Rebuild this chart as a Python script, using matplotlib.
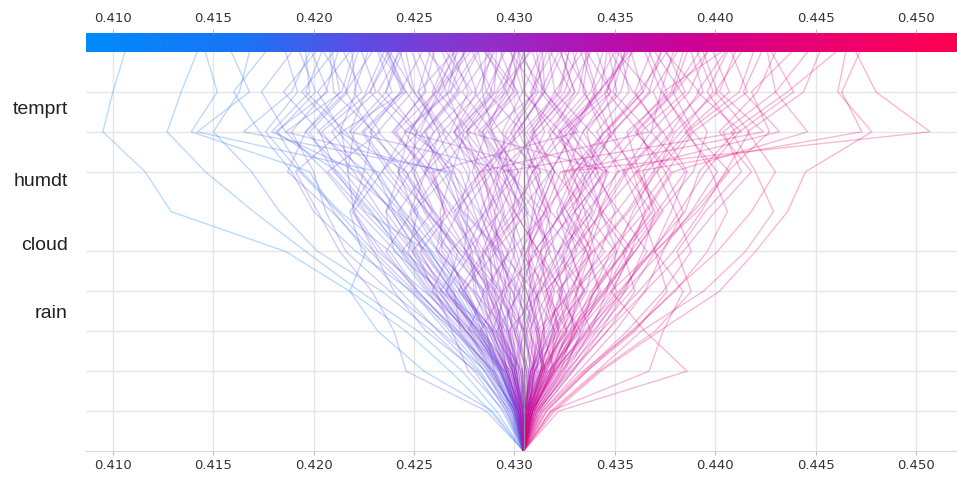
import numpy as np
import matplotlib
matplotlib.use("Agg")
import matplotlib.pyplot as plt
from matplotlib.colors import LinearSegmentedColormap, Normalize

# ---------------- data (values in thousandths) ----------------
features = ["temprt", "humdt", "cloud", "rain"]
feature_rows = [8.6, 6.8, 5.2, 3.5]
base_value = 430.45
x_ticks = [0.410, 0.415, 0.420, 0.425, 0.430, 0.435, 0.440, 0.445, 0.450]
x_range = (0.40866, 0.45204)

# each path: cumulative model output at rows 1..10 (row 0 = base value)
paths = [
    [428.8, 426.8, 424.6, 421.8, 418.6, 412.9, 411.6, 409.5, 410.0, 410.6],
    [429.1, 427.4, 425.2, 422.3, 419.6, 417.0, 414.6, 412.7, 413.4, 414.2],
    [429.4, 428.0, 425.9, 423.4, 420.2, 418.3, 416.9, 415.0, 416.3, 416.8],
    [429.6, 428.3, 426.6, 424.9, 422.1, 420.0, 418.9, 417.3, 416.0, 417.6],
    [429.9, 428.9, 427.1, 425.2, 423.8, 421.3, 419.4, 418.2, 420.1, 419.3],
    [429.7, 428.6, 426.3, 423.8, 421.6, 420.6, 420.0, 418.9, 420.6, 421.2],
    [430.1, 429.4, 428.2, 426.7, 424.5, 422.8, 421.0, 419.8, 421.7, 420.5],
    [430.2, 429.0, 427.5, 426.0, 425.1, 423.9, 422.3, 420.9, 423.1, 422.4],
    [429.8, 428.1, 425.6, 424.0, 423.0, 422.0, 421.7, 421.4, 420.2, 421.8],
    [430.3, 429.7, 429.1, 427.9, 426.2, 424.5, 423.0, 421.8, 422.6, 423.5],
    [430.0, 429.3, 427.8, 425.5, 423.2, 421.9, 422.5, 422.9, 421.6, 422.9],
    [429.5, 427.7, 426.9, 426.1, 424.9, 423.3, 422.0, 420.4, 422.8, 423.9],
    [430.4, 430.1, 428.9, 426.4, 424.0, 423.6, 424.3, 423.0, 421.0, 420.8],
    [430.1, 428.7, 427.3, 427.0, 425.8, 424.1, 421.7, 422.0, 423.9, 423.2],
    [429.9, 429.0, 428.6, 427.4, 426.8, 425.5, 424.6, 421.3, 422.1, 421.9],
    [430.2, 429.5, 427.9, 425.9, 424.7, 425.2, 423.7, 422.4, 424.4, 423.6],
    [430.5, 430.0, 429.3, 428.5, 427.2, 426.0, 425.1, 423.2, 424.9, 424.3],
    [430.3, 429.8, 428.4, 427.6, 426.6, 425.0, 424.2, 424.8, 426.1, 425.2],
    [430.6, 430.3, 429.6, 428.0, 427.8, 426.9, 425.8, 424.0, 425.5, 426.0],
    [430.2, 429.2, 428.1, 426.9, 425.4, 424.8, 425.6, 426.3, 425.0, 424.6],
    [430.4, 429.9, 429.0, 427.3, 426.1, 426.5, 426.0, 424.5, 426.7, 427.1],
    [430.7, 430.6, 430.0, 429.2, 428.3, 427.4, 426.2, 425.6, 427.3, 426.4],
    [430.1, 429.6, 428.8, 428.4, 427.0, 425.9, 424.9, 425.1, 426.4, 427.5],
    [430.5, 430.2, 429.4, 428.8, 427.5, 427.7, 427.0, 426.2, 425.2, 425.8],
    [430.3, 430.0, 429.8, 429.0, 428.7, 428.0, 427.3, 424.8, 426.0, 427.2],
    [430.6, 430.4, 429.1, 428.1, 427.9, 427.1, 425.5, 426.8, 427.7, 426.9],
    [430.0, 429.4, 428.5, 427.7, 426.4, 426.3, 426.9, 427.5, 426.6, 425.9],
    [430.4, 430.1, 429.9, 429.5, 429.0, 427.8, 426.6, 425.3, 426.2, 427.8],
    [430.8, 430.9, 430.5, 429.7, 428.5, 427.2, 427.8, 427.0, 428.1, 427.4],
    [430.2, 429.7, 428.9, 428.6, 428.2, 426.7, 425.7, 423.9, 425.6, 424.9],
    [430.5, 430.3, 429.7, 429.1, 427.4, 425.6, 425.0, 426.0, 427.9, 426.6],
    [430.6, 430.7, 430.2, 429.6, 429.3, 428.6, 428.1, 427.2, 428.8, 429.4],
    [430.4, 430.0, 429.5, 428.9, 428.8, 429.5, 429.0, 428.4, 429.7, 430.5],
    [430.7, 431.0, 430.8, 430.1, 429.0, 428.3, 427.6, 426.4, 428.3, 428.9],
    [430.3, 429.9, 429.2, 429.4, 430.0, 429.9, 430.3, 431.0, 430.1, 429.3],
    [430.5, 430.4, 430.6, 430.9, 430.3, 429.4, 428.8, 428.0, 429.2, 430.8],
    [430.8, 431.3, 431.5, 431.0, 430.5, 429.8, 429.1, 429.6, 431.0, 431.6],
    [430.2, 429.9, 429.6, 429.8, 429.4, 428.8, 428.5, 427.0, 428.6, 428.2],
    [430.6, 430.9, 431.1, 430.7, 431.3, 431.8, 431.1, 430.2, 431.4, 431.1],
    [430.4, 430.2, 430.4, 429.9, 429.2, 429.0, 429.7, 429.4, 430.4, 429.8],
    [430.5, 430.6, 430.1, 430.4, 430.9, 430.6, 429.9, 428.7, 429.9, 430.2],
    [430.7, 430.8, 430.6, 431.2, 431.6, 431.0, 430.6, 431.5, 430.8, 431.9],
    [430.3, 430.1, 429.3, 428.7, 428.4, 429.2, 428.4, 429.9, 430.9, 431.4],
    [430.6, 431.1, 431.4, 431.8, 431.0, 430.4, 429.5, 428.9, 428.4, 428.6],
    [430.4, 430.5, 430.9, 430.5, 429.6, 428.6, 427.9, 428.6, 429.5, 430.0],
    [430.5, 430.0, 430.3, 430.8, 430.7, 430.9, 431.3, 430.5, 429.6, 430.7],
    [430.2, 430.6, 430.0, 429.3, 428.9, 430.2, 430.9, 429.8, 431.2, 430.4],
    [430.9, 431.5, 431.2, 430.6, 430.1, 429.3, 428.2, 427.6, 429.0, 429.1],
    [430.3, 430.4, 429.8, 430.0, 430.6, 431.2, 432.0, 430.9, 432.0, 431.7],
    [430.6, 430.8, 430.5, 429.4, 428.0, 428.7, 429.3, 430.1, 431.5, 430.9],
    [430.4, 429.9, 429.4, 429.0, 429.7, 430.3, 429.5, 428.2, 430.0, 428.5],
    [430.7, 431.3, 431.9, 432.4, 432.0, 431.6, 431.0, 430.4, 432.2, 432.7],
    [430.8, 431.6, 432.2, 431.8, 432.6, 433.3, 432.5, 431.7, 433.2, 433.6],
    [430.5, 431.0, 431.7, 432.3, 433.1, 432.4, 431.8, 433.0, 434.1, 433.5],
    [430.9, 431.9, 432.6, 433.4, 432.8, 432.1, 433.0, 432.2, 433.8, 434.4],
    [430.6, 431.2, 430.8, 431.3, 432.2, 433.0, 433.6, 434.4, 433.5, 432.9],
    [431.0, 432.1, 433.0, 432.5, 431.7, 431.2, 432.0, 431.0, 432.7, 433.8],
    [430.7, 431.4, 432.5, 433.6, 434.0, 433.5, 432.9, 432.3, 434.6, 435.2],
    [430.4, 430.9, 431.5, 431.1, 430.6, 431.7, 432.6, 433.4, 434.8, 434.1],
    [430.8, 431.5, 431.2, 430.9, 431.6, 432.8, 433.9, 434.8, 433.9, 435.0],
    [431.1, 432.4, 433.4, 434.2, 433.6, 432.6, 431.6, 430.8, 432.5, 433.1],
    [430.6, 430.7, 431.0, 431.9, 432.9, 434.0, 434.6, 433.4, 435.3, 435.8],
    [430.9, 431.8, 432.0, 432.8, 433.7, 434.4, 433.3, 432.5, 434.3, 434.6],
    [430.5, 431.3, 432.3, 431.6, 431.3, 432.3, 433.2, 435.0, 434.5, 435.6],
    [431.2, 432.6, 433.8, 434.6, 435.1, 434.3, 433.7, 432.9, 434.0, 433.3],
    [430.7, 431.0, 431.8, 432.7, 432.4, 433.6, 435.2, 434.1, 435.7, 435.3],
    [430.8, 431.7, 432.8, 433.1, 434.3, 435.0, 434.1, 433.6, 435.1, 434.7],
    [430.6, 431.1, 430.6, 430.2, 431.0, 432.4, 433.5, 431.9, 433.0, 432.3],
    [431.0, 432.2, 433.6, 434.9, 435.8, 436.5, 435.9, 434.9, 436.7, 437.3],
    [431.3, 432.9, 434.3, 435.5, 436.4, 437.0, 436.2, 435.6, 437.8, 438.4],
    [430.9, 432.0, 433.1, 434.0, 435.1, 435.9, 437.0, 436.3, 438.5, 437.6],
    [431.2, 432.7, 434.1, 435.8, 437.0, 436.3, 435.4, 436.8, 437.3, 436.5],
    [431.1, 432.5, 433.3, 433.9, 434.8, 436.1, 437.6, 438.9, 437.9, 439.2],
    [430.8, 431.9, 433.7, 435.2, 436.9, 437.8, 438.6, 437.4, 439.4, 438.8],
    [431.4, 433.2, 435.0, 436.5, 437.4, 438.4, 437.5, 436.1, 438.0, 439.6],
    [431.0, 432.3, 432.9, 434.4, 436.0, 437.3, 438.9, 439.6, 438.3, 437.0],
    [431.5, 433.5, 435.6, 437.4, 438.8, 438.0, 437.1, 438.0, 440.1, 439.4],
    [431.1, 432.8, 434.6, 436.0, 435.4, 436.9, 436.4, 437.9, 436.9, 438.1],
    [431.6, 433.6, 435.8, 438.0, 439.6, 440.6, 439.8, 438.6, 441.2, 441.9],
    [431.9, 434.2, 437.0, 438.8, 438.1, 439.5, 441.3, 440.4, 443.0, 442.6],
    [431.6, 433.6, 436.0, 437.6, 437.0, 438.9, 440.6, 442.7, 441.8, 443.8],
    [431.4, 433.4, 435.9, 437.9, 440.1, 441.8, 443.0, 441.6, 444.4, 445.2],
    [431.8, 434.1, 436.3, 439.4, 441.5, 442.9, 442.0, 440.8, 443.6, 446.0],
    [432.0, 434.3, 437.2, 440.2, 442.0, 443.6, 444.5, 447.8, 446.1, 446.5],
    [430.9, 431.6, 432.4, 433.1, 433.8, 433.0, 432.4, 450.7, 448.0, 447.0],
    [431.0, 431.8, 433.0, 434.6, 435.8, 437.2, 436.0, 447.3, 446.3, 447.2],
    [430.7, 431.5, 432.9, 434.0, 435.5, 436.6, 437.9, 444.6, 443.0, 444.6],
    [430.3, 429.6, 428.7, 427.5, 426.2, 425.0, 426.8, 416.5, 418.9, 419.8],
    [430.1, 429.3, 428.3, 427.1, 425.8, 424.4, 423.2, 414.2, 416.8, 415.9],
    [430.5, 430.9, 431.4, 432.0, 431.2, 430.0, 429.4, 441.3, 439.1, 440.5],
    [430.6, 431.2, 432.0, 431.4, 430.7, 431.5, 432.3, 442.4, 440.2, 441.0],
    [430.4, 430.0, 429.2, 428.3, 427.6, 428.5, 429.9, 421.8, 423.6, 424.2],
    [430.2, 429.6, 428.9, 429.6, 430.4, 431.0, 431.8, 424.6, 426.8, 428.1],
    [430.8, 431.4, 432.1, 432.9, 433.5, 434.2, 435.1, 443.2, 441.4, 442.3],
    [430.3, 429.8, 429.4, 428.7, 427.6, 426.5, 425.9, 433.2, 431.5, 432.4],
    [430.5, 430.8, 431.3, 430.6, 429.9, 429.0, 428.3, 436.7, 434.9, 435.5],
    [430.7, 431.0, 430.4, 431.2, 432.5, 433.8, 434.7, 427.6, 429.4, 430.0],
    [430.4, 430.2, 429.7, 428.8, 428.1, 427.3, 426.5, 418.6, 421.4, 422.0],
    [432.2, 438.6, 436.5, 434.8, 436.9, 438.2, 439.5, 441.2, 443.9, 442.8],
    [431.8, 436.7, 437.4, 438.4, 437.0, 439.1, 440.7, 438.9, 441.6, 440.8],
    [428.6, 424.6, 424.0, 422.9, 421.3, 420.2, 419.1, 421.4, 424.5, 423.7],
    [428.9, 425.5, 423.2, 421.8, 422.6, 421.0, 419.8, 413.9, 415.2, 414.6],
    [430.1, 429.3, 427.6, 425.8, 424.4, 425.9, 424.6, 422.8, 424.3, 425.4],
    [430.7, 431.4, 432.8, 434.5, 435.6, 434.2, 435.5, 437.3, 436.0, 436.8],
    [430.3, 429.6, 428.3, 426.4, 425.3, 426.8, 428.3, 430.4, 428.6, 429.5],
    [430.8, 431.7, 433.3, 432.1, 433.9, 432.6, 434.2, 431.9, 433.6, 432.5],
    [430.0, 428.9, 427.2, 425.1, 423.6, 424.9, 426.3, 427.8, 426.2, 427.0],
    [430.9, 432.0, 433.6, 435.4, 436.6, 435.2, 433.9, 435.8, 437.6, 436.7],
    [430.4, 430.1, 429.0, 427.2, 428.5, 430.0, 428.7, 427.0, 429.1, 430.1],
    [430.2, 429.5, 428.0, 426.8, 425.0, 423.6, 424.8, 426.5, 425.0, 423.8],
    [430.9, 432.1, 433.8, 433.0, 434.8, 436.5, 437.8, 436.0, 437.9, 438.6],
    [430.5, 430.8, 431.8, 433.2, 432.1, 430.6, 429.1, 427.6, 429.6, 428.6],
    [430.1, 429.2, 427.6, 426.3, 427.6, 426.0, 424.4, 426.0, 424.6, 423.7],
    [430.6, 431.3, 432.6, 431.6, 433.0, 434.3, 433.0, 434.5, 436.4, 435.8],
    [430.3, 430.0, 430.5, 429.0, 427.2, 425.6, 424.2, 425.5, 427.1, 428.2],
    [430.7, 431.4, 431.1, 432.9, 434.5, 433.0, 434.5, 436.2, 434.6, 435.5],
    [430.0, 429.0, 427.0, 425.2, 423.4, 422.0, 423.4, 425.2, 423.6, 424.4],
    [430.8, 432.0, 433.5, 435.1, 434.0, 435.7, 437.1, 438.8, 437.3, 437.9],
    [430.4, 430.8, 432.0, 431.0, 429.3, 427.5, 428.9, 427.3, 425.9, 426.8],
    [430.5, 431.0, 432.1, 433.4, 435.0, 433.6, 432.0, 430.6, 432.3, 432.7],
    [430.2, 429.7, 428.9, 427.5, 428.6, 430.3, 431.8, 432.9, 431.3, 432.2],
    [430.9, 431.9, 433.1, 434.5, 436.0, 437.4, 436.1, 434.6, 436.4, 437.3],
    [430.3, 429.8, 428.4, 426.9, 425.5, 424.2, 425.6, 427.4, 428.9, 427.9],
    [430.6, 431.3, 431.9, 433.5, 432.8, 434.4, 435.6, 437.4, 435.9, 434.8],
    [430.1, 429.5, 428.2, 426.6, 427.2, 425.7, 423.9, 422.5, 424.6, 423.3],
    [430.7, 431.7, 433.1, 432.3, 431.3, 433.0, 434.6, 433.0, 431.5, 431.4],
    [430.4, 430.4, 430.0, 430.9, 432.2, 433.3, 434.4, 432.7, 434.8, 433.6],
    [430.2, 429.4, 427.9, 426.4, 424.9, 426.6, 425.5, 424.1, 426.1, 427.6],
    [430.8, 431.8, 432.7, 434.3, 433.6, 432.3, 433.7, 434.9, 436.8, 435.1],
    [430.5, 430.9, 431.2, 430.2, 431.8, 431.0, 429.7, 431.0, 432.8, 431.8],
    [430.0, 428.8, 427.7, 428.5, 426.8, 425.1, 423.4, 424.6, 422.8, 423.7],
    [430.9, 431.9, 432.9, 433.8, 435.5, 437.1, 438.5, 436.8, 438.7, 439.6],
    [430.3, 430.1, 429.7, 428.6, 429.7, 428.3, 429.2, 431.3, 433.0, 432.3],
    [430.6, 431.4, 431.1, 429.9, 428.5, 429.7, 431.3, 429.3, 428.0, 429.0],
    [430.4, 429.9, 429.1, 430.3, 429.2, 427.4, 426.8, 425.5, 427.2, 425.7],
    [430.7, 431.8, 433.2, 434.8, 435.9, 434.4, 436.1, 437.8, 439.2, 437.5],
    [430.2, 429.7, 428.3, 429.4, 431.2, 430.0, 430.9, 432.7, 434.2, 435.7],
    [430.5, 430.8, 431.6, 432.4, 431.0, 432.4, 433.9, 432.3, 430.4, 431.3],
    [430.3, 429.9, 428.8, 428.0, 426.2, 427.2, 428.3, 426.6, 425.2, 427.0],
    [430.8, 431.5, 432.3, 433.5, 432.2, 433.9, 432.7, 434.5, 436.2, 437.6],
    [430.1, 429.6, 429.3, 430.2, 429.0, 430.7, 429.8, 428.4, 430.2, 428.7],
    [430.6, 431.0, 432.2, 431.5, 433.3, 435.1, 436.6, 438.3, 439.9, 439.1],
    [430.4, 430.7, 430.1, 429.3, 427.6, 429.3, 430.2, 428.9, 427.4, 428.8],
    [430.2, 429.3, 428.6, 427.4, 429.1, 428.2, 426.9, 425.1, 423.2, 424.3],
    [430.7, 431.4, 432.6, 432.2, 433.5, 431.8, 430.9, 432.3, 434.2, 435.9],
    [430.5, 430.3, 429.3, 428.4, 429.8, 431.6, 430.6, 431.9, 430.5, 430.2],
    [430.9, 432.0, 431.4, 432.7, 433.9, 435.6, 436.9, 438.6, 437.4, 440.3],
    [430.3, 429.6, 428.1, 426.6, 427.9, 427.0, 428.7, 430.1, 431.5, 430.2],
    [430.6, 431.6, 430.7, 431.7, 430.3, 431.5, 433.0, 434.8, 433.4, 433.7],
    [430.4, 429.9, 429.7, 431.3, 432.8, 431.4, 429.7, 428.3, 426.8, 427.5],
    [430.7, 431.3, 432.5, 434.0, 435.4, 436.8, 435.5, 433.8, 432.0, 433.4],
    [430.1, 429.5, 427.6, 425.9, 426.8, 428.6, 430.2, 428.8, 431.1, 429.8],
    [429.7, 428.5, 426.8, 425.0, 423.0, 421.2, 419.3, 417.6, 419.2, 418.6],
    [429.9, 428.8, 427.4, 425.6, 424.1, 422.2, 420.6, 418.6, 417.4, 418.9],
    [430.0, 429.1, 427.6, 426.2, 424.6, 423.1, 421.5, 419.6, 421.3, 420.9],
    [429.8, 428.7, 427.0, 424.8, 422.8, 420.9, 418.7, 419.6, 421.6, 422.2],
    [430.1, 429.3, 428.0, 426.6, 425.2, 423.9, 422.2, 417.9, 419.8, 419.6],
    [430.2, 429.4, 428.4, 427.3, 425.7, 422.6, 421.1, 420.3, 418.5, 420.1],
    [429.6, 428.2, 426.2, 424.3, 422.4, 421.8, 423.0, 421.2, 419.4, 421.0],
    [430.0, 428.9, 427.8, 426.2, 424.4, 422.5, 420.7, 423.3, 422.0, 422.7],
    [430.3, 429.6, 428.7, 427.5, 425.9, 424.3, 422.6, 420.2, 422.4, 421.5],
    [429.9, 428.5, 427.2, 425.7, 424.3, 422.9, 421.2, 418.1, 420.7, 419.9],
    [430.2, 429.3, 428.2, 426.9, 425.6, 424.0, 423.1, 421.6, 419.6, 420.4],
    [431.2, 432.6, 434.3, 436.2, 437.9, 439.3, 440.5, 441.7, 440.0, 441.3],
    [431.0, 432.3, 433.9, 435.5, 437.3, 438.8, 440.1, 438.5, 440.7, 439.9],
    [431.3, 432.9, 434.6, 436.5, 438.4, 440.0, 441.8, 440.2, 442.1, 443.0],
    [431.1, 432.4, 434.0, 435.3, 436.8, 438.5, 439.2, 441.0, 439.6, 440.6],
]

# ---------------- style ----------------
W, H = 957, 479
cmap = LinearSegmentedColormap.from_list(
    "shap_rb",
    [(0.0, "#008bfb"), (0.18, "#1a74f5"), (0.30, "#5850e6"), (0.45, "#8f32cc"),
     (0.60, "#b80fae"), (0.72, "#d3008e"), (0.85, "#ec0070"), (1.0, "#ff0052")])
norm = Normalize(*x_range)

fig = plt.figure(figsize=(W / 100, H / 100), dpi=100)
ax_left, ax_right = 86 / W, 1.0
ax_bot, ax_top = 1 - 451 / H, 1 - 52 / H
ax = fig.add_axes([ax_left, ax_bot, ax_right - ax_left, ax_top - ax_bot])
cax = fig.add_axes([ax_left, ax_top, ax_right - ax_left, 19 / H])

grid_c = "#e6e6e6"
for t in x_ticks:
    ax.axvline(t, color=grid_c, lw=1.0, zorder=0)
for r in [1, 2, 3, 4, 5, 7, 8, 9]:
    ax.axhline(r, color=grid_c, lw=1.0, zorder=0)

rows = np.arange(11)
for p in sorted(paths, key=lambda v: v[-1]):
    xs = np.array([base_value] + p) / 1000.0
    ax.plot(xs, rows, color=cmap(norm(xs[-1])), lw=1.0, alpha=0.28, zorder=2,
            solid_joinstyle="miter")

ax.axvline(base_value / 1000.0, color="#8a8a8a", lw=1.0, zorder=3)

ax.set_xlim(*x_range)
ax.set_ylim(0, 10)
for s in ["top", "right", "left"]:
    ax.spines[s].set_visible(False)
ax.spines["bottom"].set_color("#d8d8d8")
ax.set_xticks(x_ticks)
ax.set_xticklabels([f"{t:.3f}" for t in x_ticks])
ax.tick_params(axis="x", length=3, color="#bbbbbb", labelsize=9.5,
               labelcolor="#333333", pad=3)
ax.set_yticks(feature_rows)
ax.set_yticklabels(features, fontfamily="Liberation Sans", fontsize=14,
                   color="#222222")
ax.tick_params(axis="y", length=0, pad=13)

# colour bar
grad = np.linspace(0, 1, 512)[None, :]
cax.imshow(grad, cmap=cmap, aspect="auto", extent=[x_range[0], x_range[1], 0, 1])
cax.set_xlim(*x_range)
cax.set_yticks([])
for s in cax.spines.values():
    s.set_visible(False)
cax.xaxis.tick_top()
cax.set_xticks(x_ticks)
cax.set_xticklabels([f"{t:.3f}" for t in x_ticks])
cax.tick_params(axis="x", length=3, color="#bbbbbb", labelsize=9.5,
                labelcolor="#333333", pad=3)

fig.savefig("out.png", dpi=100)
